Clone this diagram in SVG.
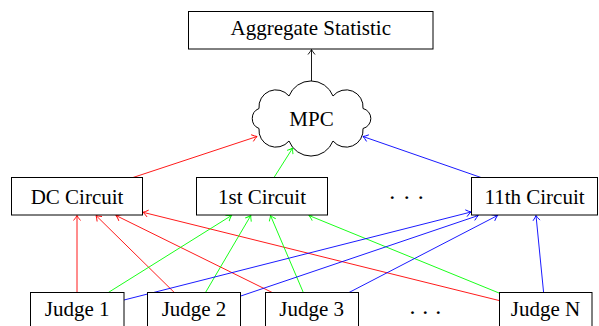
<svg xmlns="http://www.w3.org/2000/svg" width="599" height="326" viewBox="0 0 599 326">
  <style>
    .box { fill: #fff; stroke: #000; stroke-width: 1; }
    .lbl { font-family: "Liberation Serif", "Times New Roman", serif; font-size: 21px; fill: #000; text-anchor: middle; }
    .dots { font-family: "Liberation Serif", "Times New Roman", serif; font-size: 24px; fill: #000; text-anchor: middle; }
    .edge { fill: none; stroke-width: 0.9; }
    .red { stroke: #ff0000; }
    .green { stroke: #00ff00; }
    .blue { stroke: #0000ff; }
    .black { stroke: #000; }
  </style>
  <defs>
    <marker id="tip-black" markerUnits="userSpaceOnUse" orient="auto" refX="0" refY="0" markerWidth="10" markerHeight="10" overflow="visible">
      <path d="M-5,-3.5 Q-2,-1 0,0 Q-2,1 -5,3.5" fill="none" stroke="#000" stroke-width="0.9"/>
    </marker>
    <marker id="tip-red" markerUnits="userSpaceOnUse" orient="auto" refX="0" refY="0" markerWidth="10" markerHeight="10" overflow="visible">
      <path d="M-5,-3.5 Q-2,-1 0,0 Q-2,1 -5,3.5" fill="none" stroke="#ff0000" stroke-width="0.9"/>
    </marker>
    <marker id="tip-green" markerUnits="userSpaceOnUse" orient="auto" refX="0" refY="0" markerWidth="10" markerHeight="10" overflow="visible">
      <path d="M-5,-3.5 Q-2,-1 0,0 Q-2,1 -5,3.5" fill="none" stroke="#00ff00" stroke-width="0.9"/>
    </marker>
    <marker id="tip-blue" markerUnits="userSpaceOnUse" orient="auto" refX="0" refY="0" markerWidth="10" markerHeight="10" overflow="visible">
      <path d="M-5,-3.5 Q-2,-1 0,0 Q-2,1 -5,3.5" fill="none" stroke="#0000ff" stroke-width="0.9"/>
    </marker>
  </defs>

  <!-- connectors -->
  <g id="connectors">
    <!-- MPC to aggregate -->
    <line class="edge black" x1="311.5" y1="81" x2="311.5" y2="49.5" marker-end="url(#tip-black)"/>
    <!-- DC Circuit (red) -->
    <line class="edge red" x1="77" y1="292.5" x2="77" y2="215.5" marker-end="url(#tip-red)"/>
    <line class="edge red" x1="174.3" y1="292.5" x2="96" y2="215.5" marker-end="url(#tip-red)"/>
    <line class="edge red" x1="272.2" y1="292.5" x2="116" y2="215.5" marker-end="url(#tip-red)"/>
    <line class="edge red" x1="499" y1="300.5" x2="143" y2="212.3" marker-end="url(#tip-red)"/>
    <line class="edge red" x1="133" y1="177.5" x2="257" y2="136.5" marker-end="url(#tip-red)"/>
    <!-- 1st Circuit (green) -->
    <line class="edge green" x1="108.3" y1="292.5" x2="231.5" y2="215.5" marker-end="url(#tip-green)"/>
    <line class="edge green" x1="205.5" y1="292.5" x2="250.8" y2="215.5" marker-end="url(#tip-green)"/>
    <line class="edge green" x1="303.3" y1="292.5" x2="270.5" y2="215.5" marker-end="url(#tip-green)"/>
    <line class="edge green" x1="499" y1="293" x2="309" y2="215.5" marker-end="url(#tip-green)"/>
    <line class="edge green" x1="274" y1="177.5" x2="292.7" y2="148" marker-end="url(#tip-green)"/>
    <!-- 11th Circuit (blue) -->
    <line class="edge blue" x1="124" y1="300" x2="471" y2="212" marker-end="url(#tip-blue)"/>
    <line class="edge blue" x1="240.5" y1="296.1" x2="478.3" y2="215.5" marker-end="url(#tip-blue)"/>
    <line class="edge blue" x1="349" y1="292.5" x2="497.5" y2="215.5" marker-end="url(#tip-blue)"/>
    <line class="edge blue" x1="543.6" y1="292.5" x2="536" y2="215.5" marker-end="url(#tip-blue)"/>
    <line class="edge blue" x1="481" y1="177.5" x2="363" y2="136.5" marker-end="url(#tip-blue)"/>
  </g>

  <g id="aggregate">
    <rect class="box" x="188.5" y="11.5" width="244.5" height="37.5"/>
    <text class="lbl" x="310.8" y="35">Aggregate Statistic</text>
  </g>

  <g id="mpc">
    <path class="box" d="M289,96 A23.6,23.6 0 0 1 333,96 A17,17 0 0 1 363,108.5 A10.3,10.3 0 0 1 363,128.5 A17,17 0 0 1 333,141 A23.6,23.6 0 0 1 289,141 A17,17 0 0 1 259,128.5 A10.8,10.8 0 0 1 259,108.5 A17,17 0 0 1 289,96 Z"/>
    <text class="lbl" x="311.5" y="125.7">MPC</text>
  </g>

  <g id="dc-circuit">
    <rect class="box" x="11.5" y="177.5" width="131" height="37.5"/>
    <text class="lbl" x="77" y="204">DC Circuit</text>
  </g>
  <g id="first-circuit">
    <rect class="box" x="196.5" y="177.5" width="131" height="37.5"/>
    <text class="lbl" x="262" y="204">1st Circuit</text>
  </g>
  <g id="circuit-dots">
    <text class="dots" x="392.3 406.7 420.7" y="204.5">···</text>
  </g>
  <g id="eleventh-circuit">
    <rect class="box" x="471.5" y="177.5" width="126" height="37.5"/>
    <text class="lbl" x="534.5" y="204">11th Circuit</text>
  </g>

  <g id="judge-1">
    <rect class="box" x="30.5" y="292.5" width="93.5" height="39"/>
    <text class="lbl" x="77.2" y="315.5">Judge 1</text>
  </g>
  <g id="judge-2">
    <rect class="box" x="147.5" y="292.5" width="93" height="39"/>
    <text class="lbl" x="194" y="315.5">Judge 2</text>
  </g>
  <g id="judge-3">
    <rect class="box" x="265.5" y="292.5" width="93" height="39"/>
    <text class="lbl" x="311.7" y="315.5">Judge 3</text>
  </g>
  <g id="judge-dots">
    <text class="dots" x="412.5 425.3 438.3" y="319.5">···</text>
  </g>
  <g id="judge-n">
    <rect class="box" x="499.5" y="292.5" width="92.5" height="39"/>
    <text class="lbl" x="545.5" y="315.5">Judge N</text>
  </g>
</svg>
